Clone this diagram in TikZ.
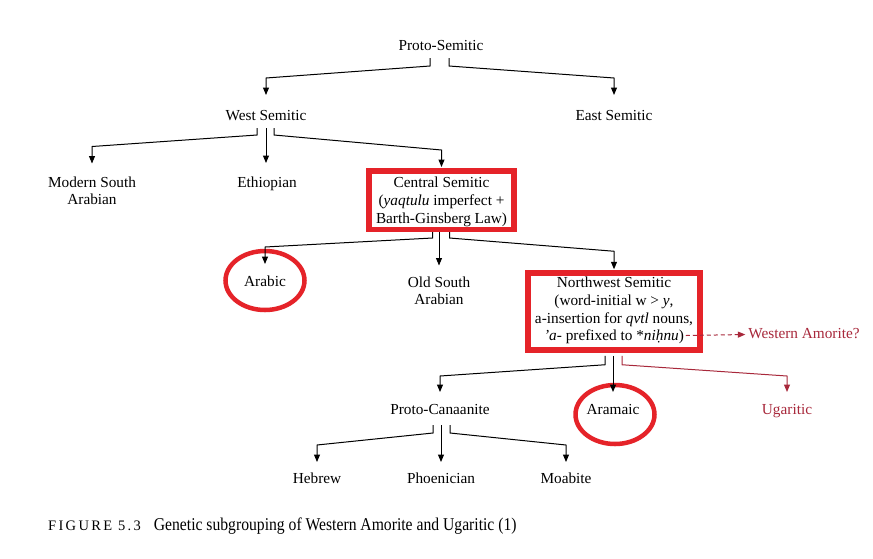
\documentclass[tikz,border=0pt]{standalone}
\usepackage{fontspec}
\setmainfont{Liberation Serif}
\usetikzlibrary{arrows.meta}
\definecolor{boxred}{HTML}{E52329}
\definecolor{darkred}{HTML}{A8283B}
\tikzset{
  txt/.style={font=\fontsize{15.3}{17.7}\selectfont, inner sep=0pt, outer sep=0pt,
              text height=11pt, text depth=4pt, anchor=base},
  txttwo/.style={font=\fontsize{15.3}{17.7}\selectfont, inner sep=0pt, outer sep=0pt,
              align=center, anchor=north},
  redbox/.style={draw=boxred, line width=5.5pt, inner sep=0pt},
  conn/.style={line width=1pt, -{Triangle[length=7.5pt,width=6pt]}},
  dconn/.style={conn, darkred, dashed, dash pattern=on 4pt off 3pt},
  ring/.style={draw=boxred, line width=4.5pt},
}
\begin{document}
\begin{tikzpicture}[x=1pt,y=-1pt]
\useasboundingbox[fill=white] (0,0) rectangle (873,558);
% nodes
\node[txt] (ps) at (441,50) {Proto-Semitic};
\node[txt] (ws) at (266,120) {West Semitic};
\node[txt] (es) at (614,120) {East Semitic};
\node[txttwo] (msa) at (92,176.5) {Modern South\\Arabian};
\node[txt] (eth) at (267,187) {Ethiopian};
\node[redbox, minimum width=145pt, minimum height=58.5pt] (cs) at (441.5,200) {};
\node[txttwo] (cstxt) at (441.5,177) {Central Semitic\\(\textit{yaqtulu} imperfect +\\Barth-Ginsberg Law)};
\node[txt] (ar) at (265,286) {Arabic};
\node[txttwo] (osa) at (439,276.5) {Old South\\Arabian};
\node[redbox, minimum width=172pt, minimum height=77pt] (nw) at (614,311.5) {};
\node[txttwo] (nwtxt) at (614,277) {Northwest Semitic\\(word-initial w > \textit{y},\\a-insertion for \textit{qvtl} nouns,\\\textit{’a}- prefixed to *\textit{niḥnu})};
\node[txt, text=darkred] (wa) at (804,338) {Western Amorite?};
\node[txt] (pc) at (440,414) {Proto-Canaanite};
\node[txt] (am) at (613,414) {Aramaic};
\node[txt, text=darkred] (ug) at (787,414) {Ugaritic};
\node[txt] (heb) at (317,483) {Hebrew};
\node[txt] (pho) at (441,483) {Phoenician};
\node[txt] (moa) at (566,483) {Moabite};
% rings
\draw[ring] (265,280.5) ellipse [x radius=39.5, y radius=29.5];
\draw[ring] (615,414.5) ellipse [x radius=39.5, y radius=29.5];
% level 1
\draw[conn] ([xshift=-11pt,yshift=-4pt]ps.south) -- ++(0,8) -- ([yshift=31pt]ws.north) -- ([yshift=14pt]ws.north);
\draw[conn] ([xshift=8pt,yshift=-4pt]ps.south) -- ++(0,8) -- ([yshift=31pt]es.north) -- ([yshift=14pt]es.north);
% level 2
\draw[conn] ([xshift=-9pt,yshift=-4pt]ws.south) -- ++(0,7) -- ([yshift=30pt]msa.north) -- ([yshift=13pt]msa.north);
\draw[conn] ([yshift=-4pt]ws.south) -- ([xshift=-1pt,yshift=13pt]eth.north);
\draw[conn] ([xshift=8pt,yshift=-4pt]ws.south) -- ++(0,7) -- ([yshift=18pt]cs.north) -- ([yshift=1pt]cs.north);
% level 3
\draw[conn] ([xshift=-9pt]cs.south) -- ++(0,6) -- ([yshift=28pt]ar.north) -- ([yshift=11pt]ar.north);
\draw[conn] (osa.north |- cs.south) -- ([yshift=11pt]osa.north);
\draw[conn] ([xshift=8pt]cs.south) -- ++(0,6) -- ([yshift=19pt]nw.north) -- ([yshift=1pt]nw.north);
% level 4
\draw[conn] ([xshift=-9pt,yshift=-3pt]nw.south) -- ++(0,9) -- ([yshift=27pt]pc.north) -- ([yshift=11pt]pc.north);
\draw[conn] ([yshift=-3pt]am.north |- nw.south) -- ([yshift=11pt]am.north);
\draw[conn, darkred] ([xshift=8pt,yshift=-3pt]nw.south) -- ++(0,9) -- ([yshift=27pt]ug.north) -- ([yshift=11pt]ug.north);
\draw[dconn] ([xshift=-17pt,yshift=-24pt]nw.east) -- ([xshift=-3pt]wa.west);
% level 5
\draw[conn] ([xshift=-7pt,yshift=-7pt]pc.south) -- ++(0,8) -- ([yshift=27pt]heb.north) -- ([yshift=10pt]heb.north);
\draw[conn] ([yshift=-7pt]pho.north |- pc.south) -- ([yshift=10pt]pho.north);
\draw[conn] ([xshift=10pt,yshift=-7pt]pc.south) -- ++(0,8) -- ([yshift=27pt]moa.north) -- ([yshift=10pt]moa.north);
% caption
\node[anchor=base west, inner sep=0pt] (cap) at (48,530)
  {{\fontsize{14.5}{15}\selectfont\addfontfeature{LetterSpace=16}FIGURE 5.3}\hspace{13pt}\scalebox{0.87}[1]{\fontsize{18}{20}\selectfont Genetic subgrouping of Western Amorite and Ugaritic (1)}};
\end{tikzpicture}
\end{document}
